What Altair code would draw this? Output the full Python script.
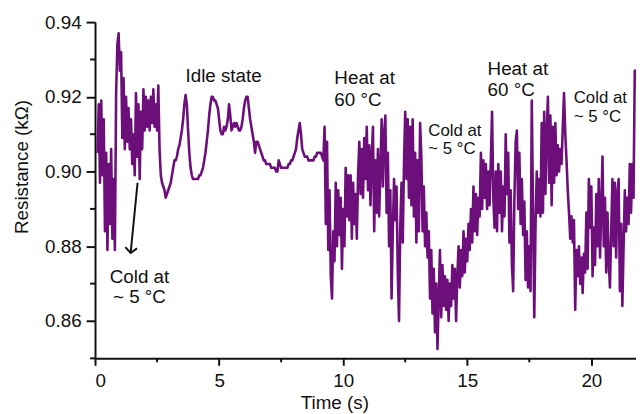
import altair as alt
import pandas as pd

# sampling grid of the trace (seconds)
t_start = 0.10
t_step = 0.05

# resistance readings (kOhm), one row per second of the record
resistance_kohm = [
    # 0.10 - 1.05 s
    0.905, 0.918, 0.897, 0.919, 0.899, 0.914, 0.884, 0.905, 0.879, 0.902,
    0.886, 0.906, 0.882, 0.898, 0.879, 0.921, 0.934, 0.937, 0.927, 0.932,
    # 1.10 - 2.05 s
    0.909, 0.925, 0.906, 0.920, 0.908, 0.917, 0.906, 0.914, 0.902, 0.910,
    0.899, 0.921, 0.904, 0.918, 0.898, 0.916, 0.906, 0.922, 0.911, 0.920,
    # 2.10 - 3.05 s
    0.912, 0.919, 0.911, 0.920, 0.913, 0.922, 0.912, 0.918, 0.911, 0.923,
    0.906, 0.899, 0.897, 0.896, 0.895, 0.893, 0.894, 0.895, 0.896, 0.897,
    # 3.10 - 4.05 s
    0.899, 0.901, 0.903, 0.903, 0.904, 0.906, 0.907, 0.909, 0.911, 0.914,
    0.918, 0.9205, 0.918, 0.911, 0.905, 0.901, 0.899, 0.898, 0.898, 0.898,
    # 4.10 - 5.05 s
    0.898, 0.898, 0.899, 0.899, 0.900, 0.901, 0.903, 0.905, 0.908, 0.911,
    0.915, 0.918, 0.920, 0.920, 0.919, 0.919, 0.918, 0.917, 0.914, 0.911,
    # 5.10 - 6.05 s
    0.910, 0.910, 0.912, 0.911, 0.912, 0.914, 0.918, 0.915, 0.911, 0.912,
    0.913, 0.912, 0.913, 0.912, 0.911, 0.911, 0.912, 0.914, 0.917, 0.919,
    # 6.10 - 7.05 s
    0.920, 0.920, 0.917, 0.914, 0.912, 0.910, 0.908, 0.905, 0.908, 0.908,
    0.907, 0.906, 0.905, 0.904, 0.903, 0.903, 0.902, 0.902, 0.902, 0.902,
    # 7.10 - 8.05 s
    0.901, 0.901, 0.901, 0.901, 0.900, 0.900, 0.903, 0.902, 0.901, 0.901,
    0.901, 0.901, 0.901, 0.901, 0.902, 0.902, 0.903, 0.903, 0.904, 0.905,
    # 8.10 - 9.05 s
    0.906, 0.909, 0.911, 0.913, 0.910, 0.906, 0.905, 0.904, 0.904, 0.904,
    0.903, 0.903, 0.903, 0.903, 0.903, 0.904, 0.904, 0.905, 0.905, 0.905,
    # 9.10 - 10.05 s
    0.905, 0.904, 0.903, 0.912, 0.886, 0.908, 0.879, 0.895, 0.872, 0.866,
    0.884, 0.876, 0.897, 0.880, 0.895, 0.883, 0.893, 0.874, 0.890, 0.880,
    # 10.10 - 11.05 s
    0.901, 0.888, 0.899, 0.887, 0.899, 0.882, 0.897, 0.886, 0.894, 0.882,
    0.899, 0.908, 0.894, 0.906, 0.893, 0.909, 0.898, 0.912, 0.895, 0.907,
    # 11.10 - 12.05 s
    0.891, 0.904, 0.912, 0.884, 0.903, 0.889, 0.906, 0.888, 0.901, 0.914,
    0.896, 0.910, 0.915, 0.889, 0.905, 0.880, 0.895, 0.866, 0.884, 0.898,
    # 12.10 - 13.05 s
    0.887, 0.896, 0.873, 0.860, 0.885, 0.897, 0.881, 0.902, 0.916, 0.898,
    0.914, 0.893, 0.912, 0.891, 0.914, 0.888, 0.905, 0.881, 0.903, 0.884,
    # 13.10 - 14.05 s
    0.913, 0.904, 0.884, 0.896, 0.880, 0.889, 0.877, 0.884, 0.866, 0.879,
    0.862, 0.874, 0.857, 0.870, 0.8525, 0.866, 0.879, 0.861, 0.875, 0.864,
    # 14.10 - 15.05 s
    0.872, 0.863, 0.871, 0.860, 0.870, 0.864, 0.875, 0.866, 0.874, 0.860,
    0.872, 0.880, 0.869, 0.879, 0.872, 0.884, 0.873, 0.882, 0.876, 0.886,
    # 15.10 - 16.05 s
    0.879, 0.890, 0.881, 0.896, 0.884, 0.894, 0.883, 0.893, 0.888, 0.905,
    0.890, 0.903, 0.893, 0.902, 0.890, 0.900, 0.891, 0.903, 0.916, 0.893,
    # 16.10 - 17.05 s
    0.885, 0.900, 0.884, 0.902, 0.889, 0.900, 0.884, 0.896, 0.888, 0.910,
    0.894, 0.905, 0.881, 0.895, 0.875, 0.868, 0.893, 0.908, 0.911, 0.890,
    # 17.10 - 18.05 s
    0.905, 0.886, 0.898, 0.883, 0.892, 0.871, 0.884, 0.869, 0.880, 0.868,
    0.919, 0.890, 0.861, 0.885, 0.900, 0.889, 0.898, 0.888, 0.913, 0.889,
    # 18.10 - 19.05 s
    0.916, 0.894, 0.910, 0.920, 0.897, 0.915, 0.891, 0.912, 0.897, 0.913,
    0.899, 0.907, 0.900, 0.906, 0.902, 0.912, 0.921, 0.910, 0.903, 0.895,
    # 19.10 - 20.05 s
    0.889, 0.882, 0.888, 0.881, 0.887, 0.863, 0.879, 0.872, 0.880, 0.870,
    0.877, 0.8675, 0.878, 0.873, 0.889, 0.874, 0.898, 0.885, 0.896, 0.872,
    # 20.10 - 21.05 s
    0.885, 0.875, 0.894, 0.880, 0.898, 0.877, 0.890, 0.904, 0.880, 0.893,
    0.873, 0.889, 0.876, 0.869, 0.884, 0.898, 0.880, 0.897, 0.877, 0.894,
    # 21.10 - 21.80 s
    0.898, 0.868, 0.886, 0.864, 0.880, 0.895, 0.884, 0.893, 0.886, 0.902,
    0.889, 0.902, 0.893, 0.927, 0.927,
]
time_s = [round(t_start + t_step * i, 2) for i in range(len(resistance_kohm))]

# axis ticks
x_major = [0, 5, 10, 15, 20]
x_minor = [2.5, 7.5, 12.5, 17.5]
y_major = [0.86, 0.88, 0.90, 0.92, 0.94]
y_minor = [0.85, 0.87, 0.89, 0.91, 0.93]

# annotations (left aligned)
left_text = ["Heat at", "60 °C", "Heat at", "60 °C", "Cold at", "~ 5 °C", "Cold at", "~ 5 °C"]
left_t = [9.645, 9.645, 15.82, 15.82, 13.43, 13.43, 19.29, 19.29]
left_r = [0.9233, 0.9175, 0.9259, 0.9201, 0.9095, 0.9047, 0.9183, 0.9132]
left_size = [19, 19, 19, 19, 17, 17, 17, 17]

# annotations (centred)
center_text = ["Idle state", "Cold at", "~ 5 °C"]
center_t = [5.18, 1.79, 1.79]
center_r = [0.9241, 0.8702, 0.8649]

# arrow (tail, tip)
arrow_t = [1.714, 1.435]
arrow_r = [0.8970, 0.8782]

FONT = "Liberation Sans, Arial, Helvetica, sans-serif"
PURPLE = "#6c0f7b"
INK = "#111111"
W, H = 547, 340

df = pd.DataFrame({"time": time_s, "res": resistance_kohm})
df_left = pd.DataFrame({"time": left_t, "res": left_r, "label": left_text, "size": left_size})
df_center = pd.DataFrame({"time": center_t, "res": center_r, "label": center_text})
df_arrow = pd.DataFrame({"time": arrow_t, "res": arrow_r, "order": [0, 1]})
df_tip = df_arrow.iloc[[1]]
df_xminor = pd.DataFrame({"time": x_minor})
df_yminor = pd.DataFrame({"res": y_minor})

x_scale = alt.Scale(domain=[0, 21.8], nice=False, zero=False)
y_scale = alt.Scale(domain=[0.85, 0.94], nice=False, zero=False)

x_axis = alt.Axis(
    values=x_major,
    format="d",
    tickSize=7,
    labelPadding=6,
    title="Time (s)",
    titleX=242,
    titleY=51,
    titleAlign="center",
    titleBaseline="alphabetic",
)
y_axis = alt.Axis(
    values=y_major,
    format=".2f",
    tickSize=9,
    labelPadding=5,
    title="Resistance (kΩ)",
    titleX=-68,
    titleY=146,
    titleAlign="center",
    titleBaseline="alphabetic",
    titleAngle=270,
)

line = alt.Chart(df).mark_line(color=PURPLE, strokeWidth=2.6, clip=True, strokeJoin="round").encode(
    x=alt.X("time:Q", scale=x_scale, axis=x_axis),
    y=alt.Y("res:Q", scale=y_scale, axis=y_axis),
)

xminor = alt.Chart(df_xminor).mark_rule(color=INK, strokeWidth=2).encode(
    x=alt.X("time:Q", scale=x_scale),
    y=alt.value(H),
    y2=alt.value(H + 4),
)

yminor = alt.Chart(df_yminor).mark_rule(color=INK, strokeWidth=2).encode(
    y=alt.Y("res:Q", scale=y_scale),
    x=alt.value(-5),
    x2=alt.value(0),
)

txt_left = alt.Chart(df_left).mark_text(
    align="left", baseline="alphabetic", font=FONT, color=INK
).encode(
    x=alt.X("time:Q", scale=x_scale),
    y=alt.Y("res:Q", scale=y_scale),
    text="label:N",
    size=alt.Size("size:Q", scale=None, legend=None),
)

txt_center = alt.Chart(df_center).mark_text(
    align="center", baseline="alphabetic", font=FONT, fontSize=19, color=INK
).encode(
    x=alt.X("time:Q", scale=x_scale),
    y=alt.Y("res:Q", scale=y_scale),
    text="label:N",
)

shaft = alt.Chart(df_arrow).mark_line(color=INK, strokeWidth=2).encode(
    x=alt.X("time:Q", scale=x_scale),
    y=alt.Y("res:Q", scale=y_scale),
    order="order:Q",
)

tip = alt.Chart(df_tip).mark_point(
    shape="M -1 -0.9 L 0 0 L 1 -0.9", filled=False, size=140, strokeWidth=2,
    color=INK, angle=5.6, opacity=1,
).encode(
    x=alt.X("time:Q", scale=x_scale),
    y=alt.Y("res:Q", scale=y_scale),
)

chart = (
    alt.layer(line, xminor, yminor, txt_left, txt_center, shaft, tip)
    .properties(
        width=W,
        height=H,
        autosize=alt.AutoSizeParams(type="none"),
        padding={"left": 88, "top": 12, "right": 0, "bottom": 54},
        background="white",
    )
    .configure_view(strokeWidth=0)
    .configure_axis(
        grid=False,
        domainColor=INK,
        domainWidth=2,
        tickColor=INK,
        tickWidth=2,
        labelFont=FONT,
        labelFontSize=19,
        labelColor=INK,
        titleFont=FONT,
        titleFontSize=19,
        titleFontWeight="normal",
        titleColor=INK,
    )
)

chart.save("out.html", embed_options={"renderer": "svg", "actions": False})
